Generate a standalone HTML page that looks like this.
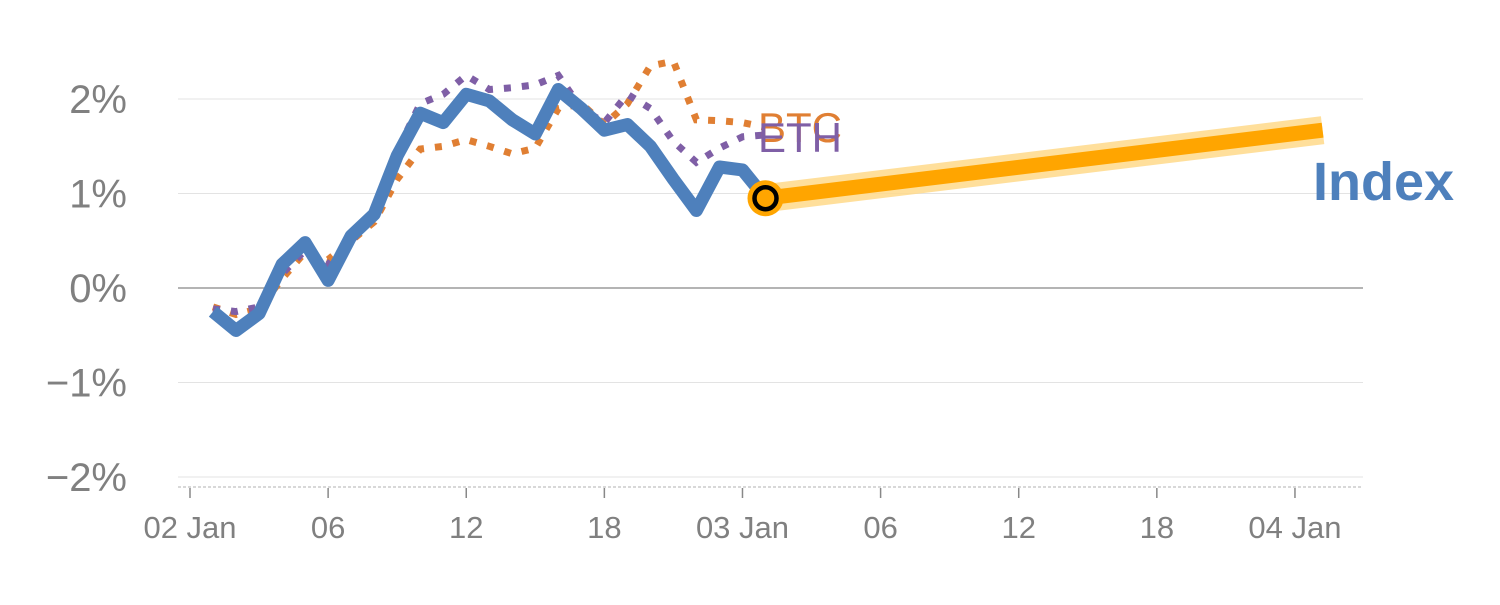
<!DOCTYPE html>
<html><head><meta charset="utf-8"><style>
html,body{margin:0;padding:0;background:#fff;}
svg text{font-family:"Liberation Sans",Arial,sans-serif;}
</style></head><body>
<svg id="chart" width="1500" height="600" xmlns="http://www.w3.org/2000/svg">
<g id="grid"></g>
<g id="axes"></g>
<g id="series"></g>
<g id="labels"></g>
</svg>
<script>
const hours = [1,2,3,4,5,6,7,8,9,10,11,12,13,14,15,16,17,18,19,20,21,22,23,24,25];
const indexVals = [-0.25,-0.45,-0.27,0.25,0.48,0.08,0.55,0.78,1.4,1.85,1.75,2.05,1.98,1.78,1.63,2.1,1.9,1.67,1.73,1.5,1.15,0.82,1.28,1.25,0.95];
const btcVals = [-0.2,-0.28,-0.22,0.1,0.38,0.3,0.5,0.7,1.15,1.47,1.5,1.57,1.5,1.42,1.48,1.9,1.95,1.73,1.95,2.35,2.4,1.78,1.77,1.75,1.7];
const ethVals = [-0.22,-0.25,-0.2,0.15,0.4,0.25,0.5,0.75,1.45,1.95,2.05,2.25,2.1,2.12,2.15,2.25,1.9,1.75,2.05,1.9,1.55,1.33,1.48,1.6,1.62];
const projHours = [25,49.2];
const projVals = [0.95,1.67];
const yTicks = [2,1,0,-1,-2];
const yTickLabels = ["2%","1%","0%","\u22121%","\u22122%"];
const xTicks = [0,6,12,18,24,30,36,42,48];
const xTickLabels = ["02 Jan","06","12","18","03 Jan","06","12","18","04 Jan"];

const NS="http://www.w3.org/2000/svg";
const xs = h => 190 + h*23.02;
const ys = v => 288 - v*94.5;
function mk(tag, attrs, parent){const e=document.createElementNS(NS,tag);for(const k in attrs)e.setAttribute(k,attrs[k]);parent.appendChild(e);return e;}
const grid=document.getElementById('grid'), axes=document.getElementById('axes'), series=document.getElementById('series'), labels=document.getElementById('labels');

yTicks.forEach((v,i)=>{
  const l=mk('line',{x1:178,x2:1363,y1:ys(v),y2:ys(v),stroke:v===0?'#888':'#e3e3e3','stroke-width':v===0?1.3:1},grid);
  
  
  const t=mk('text',{x:127,y:ys(v)+14,'text-anchor':'end','font-size':40,fill:'#808080'},axes);
  t.textContent=yTickLabels[i];
  
  
});
const base=mk('line',{x1:178,x2:1363,y1:487,y2:487,stroke:'#ccc','stroke-width':1.5,'stroke-dasharray':'3 2'},axes);


xTicks.forEach((h,i)=>{
  const tk=mk('line',{x1:xs(h),x2:xs(h),y1:488,y2:498,stroke:'#888','stroke-width':1.5},axes);
  
  
  const t=mk('text',{x:xs(h),y:538,'text-anchor':'middle','font-size':31,fill:'#808080'},axes);
  t.textContent=xTickLabels[i];
  
  
});
function pts(hs,vs){return hs.map((h,i)=>xs(h).toFixed(1)+','+ys(vs[i]).toFixed(1)).join(' ');}
const btc=mk('polyline',{points:pts(hours,btcVals),fill:'none',stroke:'#e07f33','stroke-width':7,'stroke-dasharray':'7 11'},series);


const eth=mk('polyline',{points:pts(hours,ethVals),fill:'none',stroke:'#7f5fa6','stroke-width':7,'stroke-dasharray':'7 11'},series);


const idx=mk('polyline',{points:pts(hours,indexVals),fill:'none',stroke:'#4e80bc','stroke-width':13,'stroke-linejoin':'round','stroke-linecap':'butt'},series);


const halo=mk('polyline',{points:pts(projHours,projVals),fill:'none',stroke:'#ffd98a','stroke-width':28,opacity:0.85},series);


const proj=mk('polyline',{points:pts(projHours,projVals),fill:'none',stroke:'#ffa500','stroke-width':15},series);


const last=hours.length-1;
const dot=mk('circle',{cx:xs(hours[last]),cy:ys(indexVals[last]),r:18,fill:'#ffa500'},series);


const dot2=mk('circle',{cx:xs(hours[last]),cy:ys(indexVals[last]),r:11,fill:'#ffa500',stroke:'#000','stroke-width':4.5},series);



const lb=mk('text',{x:758,y:142,'font-size':42,fill:'#e07f33'},labels);lb.textContent='BTC';


const le=mk('text',{x:758,y:152,'font-size':42,fill:'#7f5fa6'},labels);le.textContent='ETH';


const li=mk('text',{x:1313,y:200,'font-size':54,'font-weight':'bold',fill:'#4e80bc'},labels);li.textContent='Index';


</script>
</body></html>
